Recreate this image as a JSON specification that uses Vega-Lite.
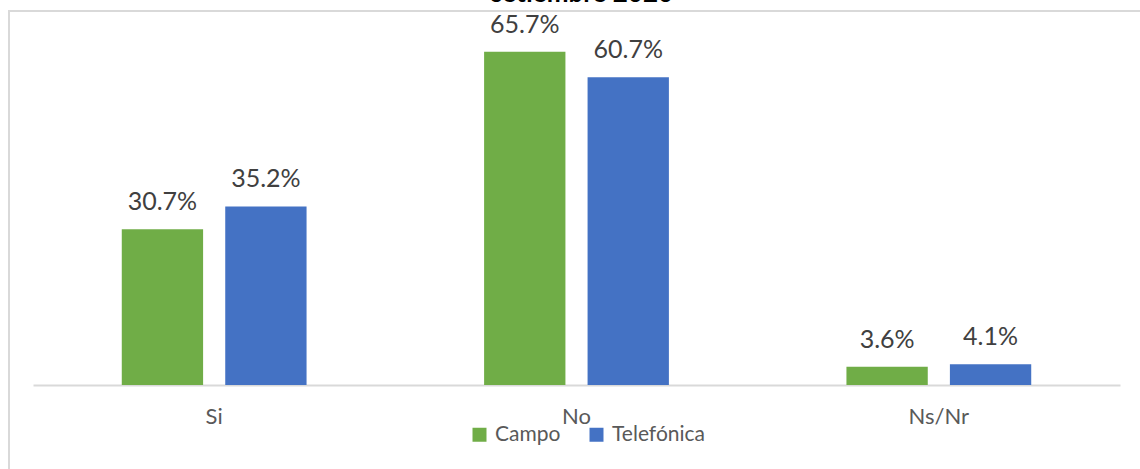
{
  "$schema": "https://vega.github.io/schema/vega-lite/v6.json",
  "width": 1146,
  "height": 470,
  "autosize": {"type": "none"},
  "padding": {"left": 9, "top": 11, "right": 0, "bottom": 0},
  "background": "white",
  "title": {"text": "setiembre 2020", "font": "Lato", "fontSize": 26, "fontWeight": "bold", "color": "#000000", "anchor": "middle", "frame": "group", "offset": 4},
  "data": {"values": [
    {"cat": "Si", "tipo": "Campo", "value": 0.307},
    {"cat": "Si", "tipo": "Telefónica", "value": 0.352},
    {"cat": "No", "tipo": "Campo", "value": 0.657},
    {"cat": "No", "tipo": "Telefónica", "value": 0.607},
    {"cat": "Ns/Nr", "tipo": "Campo", "value": 0.036},
    {"cat": "Ns/Nr", "tipo": "Telefónica", "value": 0.041}
  ]},
  "encoding": {
    "x": {"field": "cat", "type": "nominal", "sort": ["Si", "No", "Ns/Nr"],
      "scale": {"range": [24, 1111], "paddingInner": 0.49, "paddingOuter": 0.245},
      "axis": {"title": null, "labelAngle": 0, "domainColor": "#d9d9d9", "domainWidth": 2, "ticks": false, "offset": -96,
        "labelFont": "Lato", "labelFontSize": 22, "labelColor": "#595959", "labelPadding": 21}},
    "xOffset": {"field": "tipo", "type": "nominal", "sort": ["Campo", "Telefónica"],
      "scale": {"paddingInner": 0.214, "paddingOuter": 0}},
    "y": {"field": "value", "type": "quantitative", "scale": {"domain": [0, 0.7], "range": [374, 19]}, "axis": null}
  },
  "layer": [
    {"mark": {"type": "bar"},
     "encoding": {"color": {"field": "tipo", "type": "nominal",
       "scale": {"domain": ["Campo", "Telefónica"], "range": ["#70AD47", "#4472C4"]},
       "legend": {"title": null, "orient": "none", "legendX": 460, "legendY": 413, "direction": "horizontal", "symbolType": "square", "symbolSize": 196,
         "symbolStrokeWidth": 0, "labelFont": "Lato", "labelFontSize": 21, "labelColor": "#595959", "labelOffset": 5, "columnPadding": 25}}}},
    {"mark": {"type": "text", "baseline": "alphabetic", "dy": -19, "font": "Lato", "fontSize": 25, "color": "#404040"},
     "encoding": {"text": {"field": "value", "type": "quantitative", "format": ".1%"}}}
  ],
  "config": {"view": {"stroke": "#d9d9d9", "strokeWidth": 2}}
}
